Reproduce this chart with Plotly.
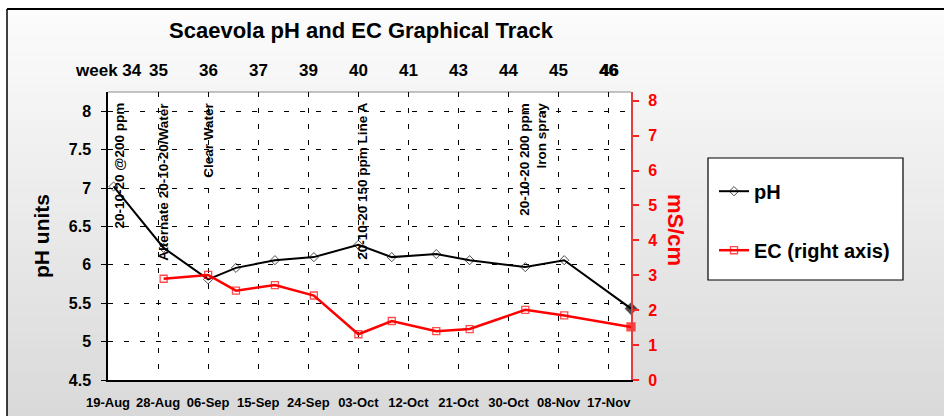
import plotly.graph_objects as go
from datetime import datetime, timedelta

# ---------------- data ----------------
ph_dates = ['2007-08-20', '2007-08-29', '2007-09-06', '2007-09-11', '2007-09-18',
            '2007-09-25', '2007-10-03', '2007-10-09', '2007-10-17', '2007-10-23',
            '2007-11-02', '2007-11-09', '2007-11-21']
ph_values = [7.02, 6.22, 5.81, 5.96, 6.06, 6.10, 6.26, 6.10, 6.14, 6.06, 5.97, 6.06, 5.43]

ec_dates = ['2007-08-29', '2007-09-06', '2007-09-11', '2007-09-18', '2007-09-25',
            '2007-10-03', '2007-10-09', '2007-10-17', '2007-10-23', '2007-11-02',
            '2007-11-09', '2007-11-21']
ec_values = [2.90, 3.01, 2.56, 2.72, 2.42, 1.31, 1.69, 1.40, 1.46, 2.01, 1.85, 1.52]

axis_start = '2007-08-19'
axis_end = '2007-11-21'
tick_step_days = 9
week_labels = ['week 34', '35', '36', '37', '39', '40', '41', '43', '44', '45', '46']

note_dates = ['2007-08-20', '2007-08-29', '2007-09-06', '2007-10-03', '2007-11-02']
note_texts = ['20-10-20 @200 ppm', 'Alternate 20-10-20/Water', 'Clear Water',
              '20-10-20 150 ppm Line A', '20-10-20 200 ppm<br>Iron spray']

# ---------------- geometry helpers ----------------
W, H = 944, 416
L, R, T, B = 108, 313, 92, 36
PW, PH = W - L - R, H - T - B
FONT = 'Liberation Sans, Arial, sans-serif'


def px_x(x):
    return (x - L) / PW


def px_y(y):
    return (H - B - y) / PH


fig = go.Figure()

ph_symbols = ['diamond-open'] * (len(ph_values) - 1) + ['diamond']
ph_sizes = [7] * (len(ph_values) - 1) + [9]
ec_symbols = ['square-open'] * (len(ec_values) - 1) + ['square']
ec_sizes = [7] * (len(ec_values) - 1) + [8]

fig.add_trace(go.Scatter(
    x=ph_dates, y=ph_values, name='pH', mode='lines+markers',
    line=dict(color='black', width=2),
    marker=dict(symbol=ph_symbols, size=ph_sizes, color='black',
                line=dict(color='black', width=1)),
    cliponaxis=False, legendgroup='a'))

fig.add_trace(go.Scatter(
    x=ec_dates, y=ec_values, name='EC (right axis)', mode='lines+markers',
    yaxis='y2',
    line=dict(color='#ff0000', width=2.5),
    marker=dict(symbol=ec_symbols, size=ec_sizes, color='#ff0000',
                line=dict(color='#ff0000', width=1.3)),
    cliponaxis=False, legendgroup='b'))

# ---------------- background shapes ----------------
shapes = []
n_bands = 48
top_px, bot_px = 9, H
for i in range(n_bands):
    y0 = top_px + (bot_px - top_px) * i / n_bands
    y1 = top_px + (bot_px - top_px) * (i + 1) / n_bands + 0.6
    c = round(252 - (252 - 217) * (i + 0.5) / n_bands)
    shapes.append(dict(type='rect', xref='paper', yref='paper', layer='below',
                       x0=px_x(7), x1=px_x(W + 2), y0=px_y(y1), y1=px_y(y0),
                       line=dict(width=0), fillcolor=f'rgb({c},{c},{c})'))
# plot area white
shapes.append(dict(type='rect', xref='paper', yref='paper', layer='below',
                   x0=0, x1=1, y0=0, y1=1, line=dict(width=0), fillcolor='white'))
# plot top border
shapes.append(dict(type='line', xref='paper', yref='paper', layer='below',
                   x0=0, x1=1, y0=1, y1=1, line=dict(color='#8a8a8a', width=1)))
# outer frame (top and left)
shapes.append(dict(type='line', xref='paper', yref='paper',
                   x0=px_x(7), x1=px_x(W + 2), y0=px_y(9), y1=px_y(9),
                   line=dict(color='black', width=2)))
shapes.append(dict(type='line', xref='paper', yref='paper',
                   x0=px_x(7), x1=px_x(7), y0=px_y(9), y1=px_y(H + 2),
                   line=dict(color='black', width=1.5)))
# legend box
shapes.append(dict(type='rect', xref='paper', yref='paper', layer='below',
                   x0=px_x(708), x1=px_x(903), y0=px_y(280), y1=px_y(158),
                   line=dict(color='black', width=1.2), fillcolor='white'))

# ---------------- annotations ----------------
annotations = []
note_shift = [5, -1, 0, 4, 8]
for d, t, s in zip(note_dates, note_texts, note_shift):
    annotations.append(dict(x=d, y=px_y(101), xref='x', yref='paper', text=t,
                            textangle=-90, showarrow=False, xanchor='center',
                            yanchor='top', xshift=s, align='right',
                            font=dict(family=FONT, size=13.5, color='black',
                                      weight='bold')))

start = datetime.strptime(axis_start, '%Y-%m-%d')
tick_dates = [(start + timedelta(days=tick_step_days * i)).strftime('%Y-%m-%d')
              for i in range(len(week_labels))]
for d, t in zip(tick_dates, week_labels):
    annotations.append(dict(x=d, y=px_y(70), xref='x', yref='paper', text=t,
                            showarrow=False, xanchor='center', yanchor='middle',
                            font=dict(family=FONT, size=17, color='black', weight='bold')))
# slightly heavier last week label
annotations.append(dict(x=tick_dates[-1], y=px_y(70), xref='x', yref='paper',
                        text=week_labels[-1], showarrow=False, xanchor='center',
                        yanchor='middle', xshift=0.8,
                        font=dict(family=FONT, size=17, color='black', weight='bold')))

annotations.append(dict(x=px_x(41), y=px_y(236), xref='paper', yref='paper',
                        text='pH units', textangle=-90, showarrow=False,
                        xanchor='center', yanchor='middle',
                        font=dict(family=FONT, size=21, color='black', weight='bold')))
annotations.append(dict(x=px_x(676), y=px_y(230), xref='paper', yref='paper',
                        text='mS/cm', textangle=90, showarrow=False,
                        xanchor='center', yanchor='middle',
                        font=dict(family=FONT, size=22, color='#ff0000', weight='bold')))

fig.update_layout(
    width=W, height=H,
    margin=dict(l=L, r=R, t=T, b=B, pad=0),
    paper_bgcolor='white', plot_bgcolor='white',
    title=dict(text='Scaevola pH and EC Graphical Track', x=px_x(361), xref='paper',
               xanchor='center', y=1 - 30 / H, yanchor='middle',
               font=dict(family=FONT, size=22, color='black', weight='bold')),
    showlegend=True,
    legend=dict(x=px_x(714), y=px_y(160), xanchor='left', yanchor='top',
                bgcolor='rgba(0,0,0,0)', borderwidth=0,
                title=dict(text=' ', font=dict(size=9)),
                tracegroupgap=30,
                font=dict(family=FONT, size=20, color='black', weight='bold')),
    xaxis=dict(type='date', range=[axis_start, axis_end], tick0=axis_start,
               dtick=tick_step_days * 86400000, tickformat='%d-%b',
               showgrid=True, gridcolor='black', gridwidth=1, griddash='5px,11px',
               showline=True, linecolor='black', linewidth=1.5, ticks='',
               ticklabelstandoff=10, automargin=False,
               tickfont=dict(family=FONT, size=13, color='black', weight='bold')),
    yaxis=dict(range=[4.5, 8.25], tick0=4.5, dtick=0.5,
               showgrid=True, gridcolor='black', gridwidth=1, griddash='5px,11px',
               zeroline=False, showline=True, linecolor='black', linewidth=1.5,
               ticks='outside', ticklen=5, tickcolor='black', ticklabelstandoff=7,
               automargin=False,
               tickfont=dict(family=FONT, size=16, color='black', weight='bold')),
    yaxis2=dict(range=[0, 8.25], dtick=1, overlaying='y', side='right',
                showgrid=False, zeroline=False, showline=True,
                linecolor='rgb(228,60,60)', linewidth=2,
                ticks='outside', ticklen=6, tickwidth=1.5, tickcolor='#ff2020',
                ticklabelstandoff=6, automargin=False,
                tickfont=dict(family=FONT, size=16, color='#ff0000', weight='bold')),
    shapes=shapes,
    annotations=annotations,
)

fig.write_html('out.html',
               config={'displayModeBar': False},
               post_script="document.body.style.margin='0px';"
                           "document.body.style.padding='0px';")
